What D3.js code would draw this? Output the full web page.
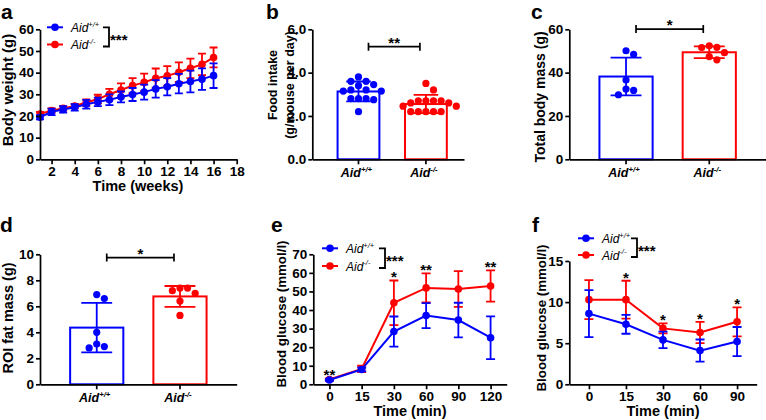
<!DOCTYPE html>
<html><head><meta charset="utf-8">
<script src="https://cdn.jsdelivr.net/npm/d3@7"></script>
<style>body{margin:0;background:#fff}svg{display:block}</style>
</head><body><svg id="c" width="766" height="420"></svg>
<script>
// ---------------- DATA ----------------
const groups = ["Aid+/+", "Aid-/-"];
// a: body weight
const weeks = [1,2,3,4,5,6,7,8,9,10,11,12,13,14,15,16];
const bwWT   = [19.4,21.9,23.0,24.0,25.4,26.5,27.5,28.8,29.9,31.0,32.5,33.5,34.9,35.9,37.0,38.6];
const bwWTsd = [1.0,1.5,1.5,1.5,2.0,2.0,2.5,2.5,3.0,3.5,4.0,4.0,4.5,5.0,5.0,5.7];
const bwKO   = [20.9,22.5,23.5,24.6,26.2,27.8,30.0,32.0,34.0,35.5,37.4,38.5,40.2,42.0,43.8,47.0];
const bwKOsd = [1.0,1.0,1.0,1.0,1.5,2.0,2.5,3.0,3.5,4.0,4.5,4.5,4.5,4.5,5.0,4.6];
const weekTicks = [2,4,6,8,10,12,14,16,18];
// b: food intake
const foodWT = [3.8,3.6,3.6,3.4,3.45,3.15,3.15,3.2,3.2,2.8,2.75,2.8,2.8,2.2];
const foodKO = [3.5,3.2,2.7,2.7,2.7,2.7,2.6,2.45,2.45,2.2,2.2,2.2,2.2,2.2,2.6];
const foodMean = [3.13,2.55];
const foodSD = [0.46,0.42];
const foodTicks = [0,2,4,6];
// c: total body mass
const massWT = [48.4,50.1,36.6,32.4,31.8,29.8];
const massKO = [51.6,52.4,51.7,45.9,49.2,47.4];
const massMean = [38.2,49.4];
const massSD = [8.7,2.7];
const massTicks = [0,20,40,60];
// d: ROI fat mass
const fatWT = [2.8,2.9,3.1,4.0,6.6,6.9];
const fatKO = [7.4,7.4,7.0,7.2,6.4,5.3];
const fatMean = [4.36,6.76];
const fatSD = [1.9,0.8];
const fatTicks = [0,2,4,6,8,10];
// significance annotations (level in data units)
const sigB = {label:"**", level:5.2};
const sigC = {label:"*", level:60.1};
const sigD = {label:"*", level:9.75};
// e: glucose tolerance
const gttTimes = ["0","15","30","60","90","120"];
const gttWT   = [2.3,8.0,28.4,37.0,34.6,25.1];
const gttWTsd = [0.5,1.0,8.1,6.7,9.3,11.5];
const gttKO   = [2.6,8.3,43.9,51.9,51.3,52.9];
const gttKOsd = [0.6,1.7,12.0,7.8,9.6,8.4];
const gttStars = ["**","","*","**","","**"];
const gttTicks = [0,10,20,30,40,50,60,70];
// f: insulin tolerance
const ittTimes = ["0","15","30","60","90"];
const ittWT   = [8.6,7.3,5.4,4.1,5.2];
const ittWTsd = [2.85,1.15,1.0,1.35,1.77];
const ittKO   = [10.3,10.3,6.8,6.3,7.6];
const ittKOsd = [2.37,2.3,0.6,1.3,1.77];
const ittStars = ["","*","*","*","*"];
const ittTicks = [0,5,10,15];

// ---------------- DRAWING ----------------
const BLUE = "#0000ff", RED = "#ff0000";
const FONT = '"Liberation Sans", Arial, Helvetica, sans-serif';
const svg = d3.select("#c").attr("font-family", FONT);
const TICKFS = 13.5, TITLEFS = 14.5;

function styleAxis(s, fs) {
  s.select(".domain").attr("stroke", "#000").attr("stroke-width", 1.7);
  s.selectAll(".tick line").attr("stroke", "#000").attr("stroke-width", 1.7);
  s.selectAll(".tick text").attr("font-size", fs).attr("font-weight", "bold")
    .attr("font-family", FONT).attr("fill", "#000");
}
function drawYAxis(x0, y, ticks) {
  svg.append("g").attr("transform", `translate(${x0},0)`)
    .call(d3.axisLeft(y).tickValues(ticks).tickSize(4).tickPadding(2).tickSizeOuter(0))
    .call(s => styleAxis(s, TICKFS));
}
function drawXAxis(yb, x, ticks, fmt) {
  const ax = d3.axisBottom(x).tickSize(5).tickPadding(2).tickSizeOuter(0);
  if (ticks) ax.tickValues(ticks);
  if (fmt !== undefined) ax.tickFormat(fmt);
  svg.append("g").attr("transform", `translate(0,${yb})`).call(ax).call(s => styleAxis(s, TICKFS));
}
function yTitle(x, y, lines, fs, lh) {
  const t = svg.append("text").attr("transform", `translate(${x},${y}) rotate(-90)`)
    .attr("text-anchor", "middle").attr("font-size", fs || TITLEFS).attr("font-weight", "bold");
  lines.forEach((l, i) => t.append("tspan").attr("x", 0).attr("dy", i ? (lh || 17) : 0).text(l));
}
function xTitle(x, y, txt) {
  svg.append("text").attr("x", x).attr("y", y).attr("text-anchor", "middle")
    .attr("font-size", TITLEFS).attr("font-weight", "bold").text(txt);
}
function panelLabel(x, y, t) {
  svg.append("text").attr("x", x).attr("y", y).attr("font-size", 21).attr("font-weight", "bold").text(t);
}
function aidText(sel, g, fs, bold) {
  const base = g.slice(0, 3), sup = g.slice(3);
  sel.attr("font-style", "italic").attr("font-weight", bold ? "bold" : "normal").attr("font-size", fs);
  sel.append("tspan").text(base);
  sel.append("tspan").attr("font-size", fs * 0.62).attr("dy", -fs * 0.42).text(sup);
}

// line chart with errors
function lineSeries(x, y, xs, m, sd, color, capW) {
  const g = svg.append("g");
  g.append("path").datum(xs.map((d, i) => [x(d), y(m[i])]))
    .attr("d", d3.line()).attr("fill", "none").attr("stroke", color).attr("stroke-width", 2);
  xs.forEach((d, i) => {
    const cx = x(d), t = y(m[i] + sd[i]), b = y(m[i] - sd[i]);
    g.append("path").attr("d", `M${cx},${t}V${b}M${cx - capW},${t}H${cx + capW}M${cx - capW},${b}H${cx + capW}`)
      .attr("stroke", color).attr("stroke-width", 1.8).attr("fill", "none");
  });
  g.selectAll("circle").data(xs).join("circle")
    .attr("cx", d => x(d)).attr("cy", (d, i) => y(m[i])).attr("r", 3.8).attr("fill", color);
}
function legend(x, yBlue, yRed, bx) {
  [[BLUE, groups[0], yBlue], [RED, groups[1], yRed]].forEach(([c, g, yy]) => {
    svg.append("line").attr("x1", x).attr("x2", x + 16).attr("y1", yy).attr("y2", yy)
      .attr("stroke", c).attr("stroke-width", 2);
    svg.append("circle").attr("cx", x + 8).attr("cy", yy).attr("r", 3.8).attr("fill", c);
    aidText(svg.append("text").attr("x", x + 24).attr("y", yy + 4.5), g, 12, false);
  });
  svg.append("path").attr("d", `M${bx},${yBlue}H${bx + 6}V${yRed + 2}H${bx}`)
    .attr("fill", "none").attr("stroke", "#000").attr("stroke-width", 1.8);
  svg.append("text").attr("x", bx + 7).attr("y", (yBlue + yRed) / 2 + 9)
    .attr("font-size", 15).attr("font-weight", "bold").text("***");
}

// beeswarm offsets
function dodge(vals, y, r) {
  const order = vals.map((v, i) => i).sort((a, b) => vals[b] - vals[a]);
  const placed = [], out = new Array(vals.length);
  const d = 2 * r + 0.4;
  order.forEach(i => {
    const cy = y(vals[i]);
    let best = 0;
    for (let k = 0; k < 40; k++) {
      const cand = k === 0 ? 0 : (k % 2 ? 1 : -1) * Math.ceil(k / 2) * d / 2;
      if (placed.every(p => Math.hypot(p[0] - cand, p[1] - cy) >= d - 0.01)) { best = cand; break; }
    }
    placed.push([best, cy]); out[i] = best;
  });
  return out;
}

function barPanel(o) {
  const y = d3.scaleLinear().domain([0, o.ticks[o.ticks.length - 1]]).range([o.yb, o.yt]);
  const x = d3.scaleBand().domain(groups).range([o.x0, o.x1]).paddingInner(o.pi).paddingOuter(o.po).align(o.al);
  const cols = [BLUE, RED], pts = [o.wt, o.ko];
  const capW = x.bandwidth() * 0.28;
  const R = 3.6;
  groups.forEach((g, i) => {
    svg.append("rect").attr("x", x(g) + 1).attr("y", y(o.mean[i])).attr("width", x.bandwidth() - 2)
      .attr("height", y(0) - y(o.mean[i])).attr("fill", "#fff").attr("stroke", cols[i]).attr("stroke-width", 2);
  });
  groups.forEach((g, i) => {
    const cx = x(g) + x.bandwidth() / 2;
    const offs = dodge(pts[i], y, R);
    svg.append("g").selectAll("circle").data(pts[i]).join("circle")
      .attr("cx", (d, j) => cx + offs[j]).attr("cy", d => y(d)).attr("r", R).attr("fill", cols[i]);
    const t = y(o.mean[i] + o.sd[i]), b = y(o.mean[i] - o.sd[i]);
    svg.append("path").attr("d", `M${cx},${t}V${b}M${cx - capW},${t}H${cx + capW}M${cx - capW},${b}H${cx + capW}`)
      .attr("stroke", cols[i]).attr("stroke-width", 1.8).attr("fill", "none");
  });
  drawYAxis(o.x0, y, o.ticks);
  drawXAxis(o.yb, x, null, "");
  groups.forEach(g => {
    aidText(svg.append("text").attr("x", x(g) + x.bandwidth() / 2 - 2).attr("y", o.yb + 18)
      .attr("text-anchor", "middle"), g, 12.5, true);
  });
  // significance bar
  const xa = x(groups[0]) + x.bandwidth() / 2 + 10, xb = x(groups[1]) + x.bandwidth() / 2 - 6;
  const ly = y(o.sig.level);
  svg.append("path").attr("d", `M${xa},${ly - 4}V${ly + 4}M${xa},${ly}H${xb}M${xb},${ly - 4}V${ly + 4}`)
    .attr("stroke", "#000").attr("stroke-width", 1.7).attr("fill", "none");
  svg.append("text").attr("x", (xa + xb) / 2).attr("y", ly + 1).attr("text-anchor", "middle")
    .attr("font-size", 15).attr("font-weight", "bold").text(o.sig.label);
}

// ---- panel a ----
{
  const x = d3.scaleLinear().domain([1, 18]).range([40, 236.7]);
  const y = d3.scaleLinear().domain([0, 60]).range([159.3, 29.3]);
  lineSeries(x, y, weeks, bwKO, bwKOsd, RED, 4);
  lineSeries(x, y, weeks, bwWT, bwWTsd, BLUE, 4);
  drawYAxis(40, y, [0,10,20,30,40,50,60]);
  drawXAxis(159.3, x, weekTicks);
  legend(47, 27.3, 44.5, 103);
  yTitle(13, 90, ["Body weight (g)"], 15);
  xTitle(138, 191, "Time (weeks)");
  panelLabel(1, 19, "a");
}
// ---- panel b ----
barPanel({x0: 312.3, x1: 464, yt: 29.3, yb: 159.3, ticks: foodTicks, wt: foodWT, ko: foodKO,
  mean: foodMean, sd: foodSD, pi: 0.35, po: 0.3, al: 0.6, sig: sigB});
yTitle(277, 85, ["Food intake", "(g/mouse per day)"], 12.5, 17);
panelLabel(266, 19, "b");
// ---- panel c ----
barPanel({x0: 569.3, x1: 766, yt: 29.3, yb: 159.3, ticks: massTicks, wt: massWT, ko: massKO,
  mean: massMean, sd: massSD, pi: 0.337, po: 0.35, al: 0.5, sig: sigC});
yTitle(545, 97, ["Total body mass (g)"], 14);
panelLabel(531, 19, "c");
// ---- panel d ----
barPanel({x0: 40, x1: 236.7, yt: 254.3, yb: 384.3, ticks: fatTicks, wt: fatWT, ko: fatKO,
  mean: fatMean, sd: fatSD, pi: 0.337, po: 0.35, al: 0.5, sig: sigD});
yTitle(13, 318, ["ROI fat mass (g)"], 14.5);
panelLabel(0, 232, "d");
// ---- panel e ----
{
  const x = d3.scalePoint().domain(gttTimes).range([313.3, 506.7]).padding(0.5);
  const y = d3.scaleLinear().domain([0, 70]).range([384.3, 254.3]);
  lineSeries(x, y, gttTimes, gttKO, gttKOsd, RED, 4.5);
  lineSeries(x, y, gttTimes, gttWT, gttWTsd, BLUE, 4.5);
  gttStars.forEach((s, i) => {
    if (!s) return;
    const top = Math.max(gttKO[i] + gttKOsd[i], gttWT[i] + gttWTsd[i]);
    svg.append("text").attr("x", x(gttTimes[i])).attr("y", y(top) + 2).attr("text-anchor", "middle")
      .attr("font-size", 15).attr("font-weight", "bold").text(s);
  });
  drawYAxis(313.3, y, gttTicks);
  drawXAxis(384.3, x);
  legend(322, 248.3, 266, 379);
  yTitle(286, 314, ["Blood glucose (mmol/l)"], 13.3);
  xTitle(410, 416, "Time (min)");
  panelLabel(271, 232, "e");
}
// ---- panel f ----
{
  const x = d3.scalePoint().domain(ittTimes).range([569.3, 756.7]).padding(0.53);
  const y = d3.scaleLinear().domain([0, 15]).range([384.3, 261]);
  lineSeries(x, y, ittTimes, ittKO, ittKOsd, RED, 4.5);
  lineSeries(x, y, ittTimes, ittWT, ittWTsd, BLUE, 4.5);
  ittStars.forEach((s, i) => {
    if (!s) return;
    const top = Math.max(ittKO[i] + ittKOsd[i], ittWT[i] + ittWTsd[i]);
    svg.append("text").attr("x", x(ittTimes[i])).attr("y", y(top) + 2).attr("text-anchor", "middle")
      .attr("font-size", 15).attr("font-weight", "bold").text(s);
  });
  drawYAxis(569.3, y, ittTicks);
  drawXAxis(384.3, x);
  legend(578, 238.3, 255, 631);
  yTitle(546, 318, ["Blood glucose (mmol/l)"], 13.3);
  xTitle(663, 416, "Time (min)");
  panelLabel(532, 232, "f");
}
</script></body></html>
